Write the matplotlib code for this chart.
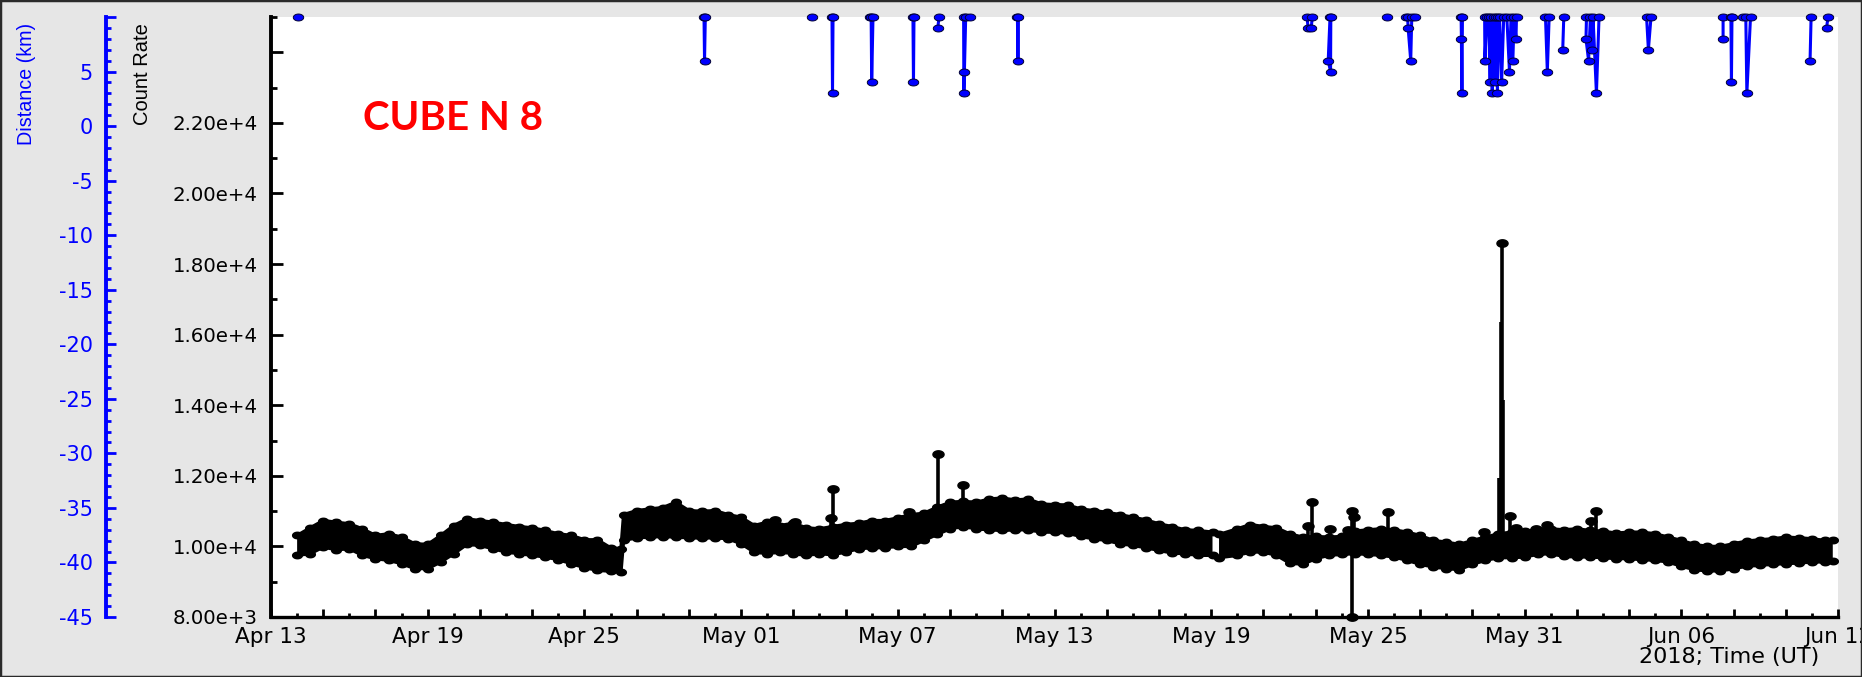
import numpy as np
import matplotlib
matplotlib.use("Agg")
import matplotlib.pyplot as plt
import matplotlib.dates as mdates
from matplotlib.path import Path
from matplotlib.patches import Rectangle
from matplotlib.ticker import FixedLocator, FuncFormatter, MultipleLocator

# ---------------- data (days since 2018-04-13 00:00 UT) ----------------
start_date = "2018-04-13"

band_days = [1.0, 1.5, 2.0, 2.5, 3.0, 3.5, 4.0, 4.5, 5.0, 5.5, 6.0, 6.5, 7.0, 7.5,
             8.0, 8.5, 9.0, 9.5, 10.0, 10.5, 11.0, 11.5, 12.0, 12.5, 13.0, 13.4,
             13.5, 14.0, 14.5, 15.0, 15.5, 16.0, 16.5, 17.0, 17.5, 18.0, 18.5,
             19.0, 19.5, 20.0, 20.5, 21.0, 21.5, 22.0, 22.5, 23.0, 23.5, 24.0,
             24.5, 25.0, 25.5, 26.0, 26.5, 27.0, 27.5, 28.0, 28.5, 29.0, 29.5,
             30.0, 30.5, 31.0, 31.5, 32.0, 32.5, 33.0, 33.5, 34.0, 34.5, 35.0,
             35.5, 36.05, 36.15, 36.3, 37.0, 37.5, 38.0, 38.5, 39.0, 39.5, 40.0,
             40.5, 41.0, 41.5, 42.0, 42.5, 43.0, 43.5, 44.0, 44.5, 45.0, 45.5,
             46.0, 46.5, 47.0, 47.5, 48.0, 48.5, 49.0, 49.5, 50.0, 50.5, 51.0,
             51.5, 52.0, 52.5, 53.0, 53.5, 54.0, 54.5, 55.0, 55.5, 56.0, 56.5,
             57.0, 57.5, 58.0, 58.5, 59.0, 59.5, 59.8]
band_upper = [10310, 10526, 10732, 10686, 10639, 10498, 10310, 10357, 10263, 10075,
              10057, 10310, 10592, 10779, 10732, 10686, 10620, 10563, 10526, 10451,
              10357, 10310, 10188, 10188, 9962, 9934,
              10901, 11014, 11061, 11100, 11250, 11014, 10995, 11014, 10901, 10826,
              10592, 10686, 10592, 10657, 10526, 10498, 10563, 10620, 10657, 10732,
              10732, 10808, 10901, 10939, 11108, 11249, 11277, 11249, 11343, 11371,
              11315, 11343, 11202, 11183, 11174, 11061, 11014, 10967, 10901, 10826,
              10751, 10639, 10563, 10470, 10451, 10404, np.nan, 10338, 10498, 10620,
              10563, 10526, 10357, 10263, 10282, 10263, 10282, 10432, 10470, 10498,
              10470, 10404, 10310, 10169, 10122, 10056, 10169, 10263, 10357, 10404,
              10432, 10470, 10498, 10470, 10498, 10451, 10432, 10376, 10404, 10404,
              10357, 10263, 10169, 10056, 10000, 10000, 10075, 10150, 10188, 10216,
              10263, 10244, 10216, 10169, 10169]
band_lower = [9747, 9793, 9981, 9906, 9934, 9747, 9653, 9606, 9512, 9371,
              9371, 9559, 9793, 10056, 10028, 9934, 9840, 9793, 9747, 9700,
              9624, 9512, 9399, 9324, 9296, 9277,
              10169, 10244, 10263, 10280, 10263, 10244, 10235, 10244, 10216, 10075,
              9841, 9793, 9841, 9793, 9747, 9793, 9765, 9840, 9934, 9962,
              9962, 10000, 10000, 10169, 10338, 10498, 10563, 10498, 10470, 10451,
              10470, 10470, 10404, 10404, 10376, 10282, 10216, 10169, 10075, 10028,
              9962, 9887, 9812, 9793, 9747, 9747, np.nan, 9681, 9747, 9840,
              9840, 9747, 9530, 9493, 9653, 9747, 9775, 9793, 9775, 9747,
              9700, 9606, 9493, 9418, 9371, 9343, 9493, 9606, 9681, 9681,
              9700, 9775, 9793, 9718, 9700, 9700, 9681, 9653, 9653, 9624,
              9606, 9559, 9437, 9343, 9305, 9305, 9371, 9437, 9465, 9493,
              9512, 9530, 9559, 9559, 9580]

# isolated count-rate excursions (day, peak count rate)
spike_days = [19.31, 20.08, 21.45, 21.52, 24.42, 25.53, 26.50, 39.70, 39.87, 40.54,
              41.25, 41.41, 41.45, 42.77, 46.45, 47.13, 47.44,
              47.66, 48.43, 48.85, 50.54, 50.73]
spike_vals = [10760, 10685, 10798, 11625, 10967, 12630, 11737, 10592, 11249, 10498,
              10470, 10995, 10845, 10967, 10404, 18600, 10873,
              10526, 10498, 10620, 10714, 11014]
# steps on the flanks of the big May 30 spike (drawn without symbols)
flank_days = [47.02, 47.08, 47.17]
flank_vals = [11950, 16370, 14140]
drop_days = [41.41]
drop_vals = [7990]

# distance (km) excursions, NaN separates passes
blue_days = [1.05, np.nan,
             16.58, 16.60, 16.63, np.nan,
             20.70, np.nan,
             21.48, 21.50, 21.52, np.nan,
             22.95, np.nan,
             22.98, 23.00, 23.05, np.nan,
             24.58, 24.60, 24.62, np.nan,
             25.53, 25.58, np.nan,
             26.52, 26.53, 26.55, 26.60, np.nan,
             26.76, np.nan,
             28.58, 28.60, 28.62, np.nan,
             39.67, 39.71, 39.83, 39.87, np.nan,
             40.55, 40.48, 40.57, 40.58, np.nan,
             42.75, np.nan,
             43.44, np.nan,
             43.52, 43.54, 43.64, 43.68, np.nan,
             43.80, np.nan,
             45.57, 45.58, 45.60, 45.62, np.nan,
             46.47, 46.48, 46.55, 46.62, 46.68, 46.72, 46.76, 46.82, 46.88, 46.92,
             46.96, 47.00, 47.04, 47.12, 47.20, 47.32, 47.42, 47.48, 47.55, 47.60,
             47.67, 47.69, np.nan,
             48.80, 48.87, 48.94, np.nan,
             49.50, 49.46, np.nan,
             50.37, 50.35, 50.45, 50.52, 50.59, 50.62, 50.75, 50.85, np.nan,
             52.67, 52.74, 52.84, np.nan,
             55.60, 55.60, np.nan,
             55.90, 55.92, 55.94, np.nan,
             56.35, np.nan,
             56.47, 56.51, 56.65, np.nan,
             58.97, 58.93, np.nan,
             59.62, 59.56]
blue_km = [10, np.nan,
           10, 6, 10, np.nan,
           10, np.nan,
           10, 3, 10, np.nan,
           10, np.nan,
           10, 4, 10, np.nan,
           10, 4, 10, np.nan,
           9, 10, np.nan,
           10, 3, 5, 10, np.nan,
           10, np.nan,
           10, 6, 10, np.nan,
           10, 9, 9, 10, np.nan,
           10, 6, 5, 10, np.nan,
           10, np.nan,
           10, np.nan,
           10, 9, 6, 10, np.nan,
           10, np.nan,
           10, 8, 3, 10, np.nan,
           10, 6, 10, 10, 4, 10, 3, 10, 4, 10,
           3, 10, 10, 4, 10, 10, 5, 10, 6, 10,
           8, 10, np.nan,
           10, 5, 10, np.nan,
           10, 7, np.nan,
           10, 8, 6, 10, 7, 10, 3, 10, np.nan,
           10, 7, 10, np.nan,
           10, 8, np.nan,
           10, 4, 10, np.nan,
           10, np.nan,
           10, 3, 10, np.nan,
           10, 6, np.nan,
           10, 9]

count_range = (8000, 25000)
dist_range = (-45, 10)
n_days = 60
label_every = 6
x_title = "2018; Time (UT)"
title_text = "CUBE N 8"

# ---------------- figure ----------------
plt.rcParams['font.family'] = ['DejaVu Sans']
BG = '#e6e6e6'
W, H = 1862, 677
fig = plt.figure(figsize=(W / 100, H / 100), dpi=100, facecolor=BG)

L, R, T, B = 271, 1838, 17, 617
ax = fig.add_axes([L / W, (H - B) / H, (R - L) / W, (B - T) / H])
ax.set_facecolor('white')

t0 = mdates.date2num(np.datetime64(start_date))
bdays = np.asarray(band_days)
bx = t0 + bdays

# ellipse marker (plot symbols appear wider than tall)
th = np.linspace(0, 2 * np.pi, 41)
ell = Path(np.column_stack([1.5 * np.cos(th), np.sin(th)]), closed=True)

bu = np.asarray(band_upper, dtype=float)
bl = np.asarray(band_lower, dtype=float)
ax.fill_between(bx, bl, bu, color='black', lw=0, zorder=2)
for env in (bu, bl):
    ax.plot(bx, env, color='black', lw=2.4, marker=ell, ms=7, mfc='black',
            mec='black', zorder=3)

# band midline used as foot of the vertical excursions
ok = ~np.isnan(bu)
mid = (bu[ok] + bl[ok]) / 2

def foot(days):
    return np.interp(days, bdays[ok], mid)

fx = t0 + np.asarray(flank_days)
ax.vlines(fx, foot(flank_days), flank_vals, color='black', lw=2.6, zorder=3)
sx = t0 + np.asarray(spike_days)
ax.vlines(sx, foot(spike_days), spike_vals, color='black', lw=2.6, zorder=3)
ax.plot(sx, spike_vals, ls='none', marker=ell, ms=8, mfc='black', mec='black', zorder=4)
dxx = t0 + np.asarray(drop_days)
ax.vlines(dxx, foot(drop_days), drop_vals, color='black', lw=2.6, zorder=3)
ax.plot(dxx, drop_vals, ls='none', marker=ell, ms=8, mfc='black', mec='black',
        zorder=4, clip_on=False)

ax.set_xlim(t0, t0 + n_days)
ax.set_ylim(*count_range)

for s in ('top', 'right'):
    ax.spines[s].set_visible(False)
ax.spines['left'].set_linewidth(2.8)
ax.spines['bottom'].set_linewidth(2.4)

def sci(v, p):
    if v > 23000:
        return ''
    e = int(np.floor(np.log10(v)))
    return f"{v / 10 ** e:.2f}e+{e}"

ax.yaxis.set_major_locator(MultipleLocator(2000))
ax.yaxis.set_minor_locator(MultipleLocator(1000))
ax.yaxis.set_major_formatter(FuncFormatter(sci))
ax.tick_params(axis='y', which='major', direction='in', length=8.6, width=2.0,
               pad=9.5, labelsize=14.2, colors='black')
ax.tick_params(axis='y', which='minor', direction='in', length=4.3, width=2.0)

ax.xaxis.set_major_locator(FixedLocator(t0 + np.arange(0, n_days + 1, 2)))
ax.xaxis.set_minor_locator(FixedLocator(t0 + np.arange(0, n_days + 1, 1)))

def dlab(v, p):
    k = int(round(v - t0))
    if k % label_every:
        return ''
    return mdates.num2date(v).strftime('%b %d')

ax.xaxis.set_major_formatter(FuncFormatter(dlab))
ax.tick_params(axis='x', which='major', direction='in', length=5.8, width=2.0,
               pad=7, labelsize=15.5)
ax.tick_params(axis='x', which='minor', direction='in', length=2.9, width=2.0)

# distance axis
BLUE = '#0000ff'
ax2 = ax.twinx()
ax2.set_ylim(*dist_range)
ax2.yaxis.set_ticks_position('left')
for s in ('top', 'right', 'bottom'):
    ax2.spines[s].set_visible(False)
ax2.spines['left'].set_visible(True)
ax2.spines['left'].set_position(('axes', (106 - L) / (R - L)))
ax2.spines['left'].set_color(BLUE)
ax2.spines['left'].set_linewidth(2.8)
ax2.yaxis.set_major_locator(MultipleLocator(5))
ax2.yaxis.set_minor_locator(MultipleLocator(1))
ax2.yaxis.set_major_formatter(FuncFormatter(lambda v, p: '' if v > 7 else f"{v:.0f}"))
ax2.tick_params(axis='y', which='major', direction='in', length=7.5, width=2.0,
                pad=9.5, labelsize=15, colors=BLUE, left=True, right=False,
                labelleft=True, labelright=False)
ax2.tick_params(axis='y', which='minor', direction='in', length=3.8, width=2.0,
                colors=BLUE, left=True, right=False)

ax2.plot(t0 + np.asarray(blue_days), blue_km, color=BLUE, lw=2.2, marker=ell, ms=7.5,
         mfc=BLUE, mec='#000033', mew=0.7, clip_on=False, zorder=5)

# labels
fig.text(27 / W, (H - 84) / H, 'Distance (km)', rotation=90, ha='center', va='center',
         color=BLUE, fontsize=14.2, family=['Liberation Sans', 'DejaVu Sans'])
fig.text(143 / W, (H - 74) / H, 'Count Rate', rotation=90, ha='center', va='center',
         color='black', fontsize=14.5, family=['Liberation Sans', 'DejaVu Sans'])
fig.text(1819 / W, (H - 657) / H, x_title, ha='right', va='center', fontsize=16)
fig.text(363 / W, (H - 130) / H, title_text, ha='left', va='baseline', color='#ff0000',
         fontsize=29, fontweight='bold', family=['Lato', 'DejaVu Sans'])

fig.patches.append(Rectangle((0, 0), 1, 1, transform=fig.transFigure, fill=False,
                             edgecolor='#2a2a2a', lw=2.5))

fig.savefig('out.png', dpi=100, facecolor=BG)
